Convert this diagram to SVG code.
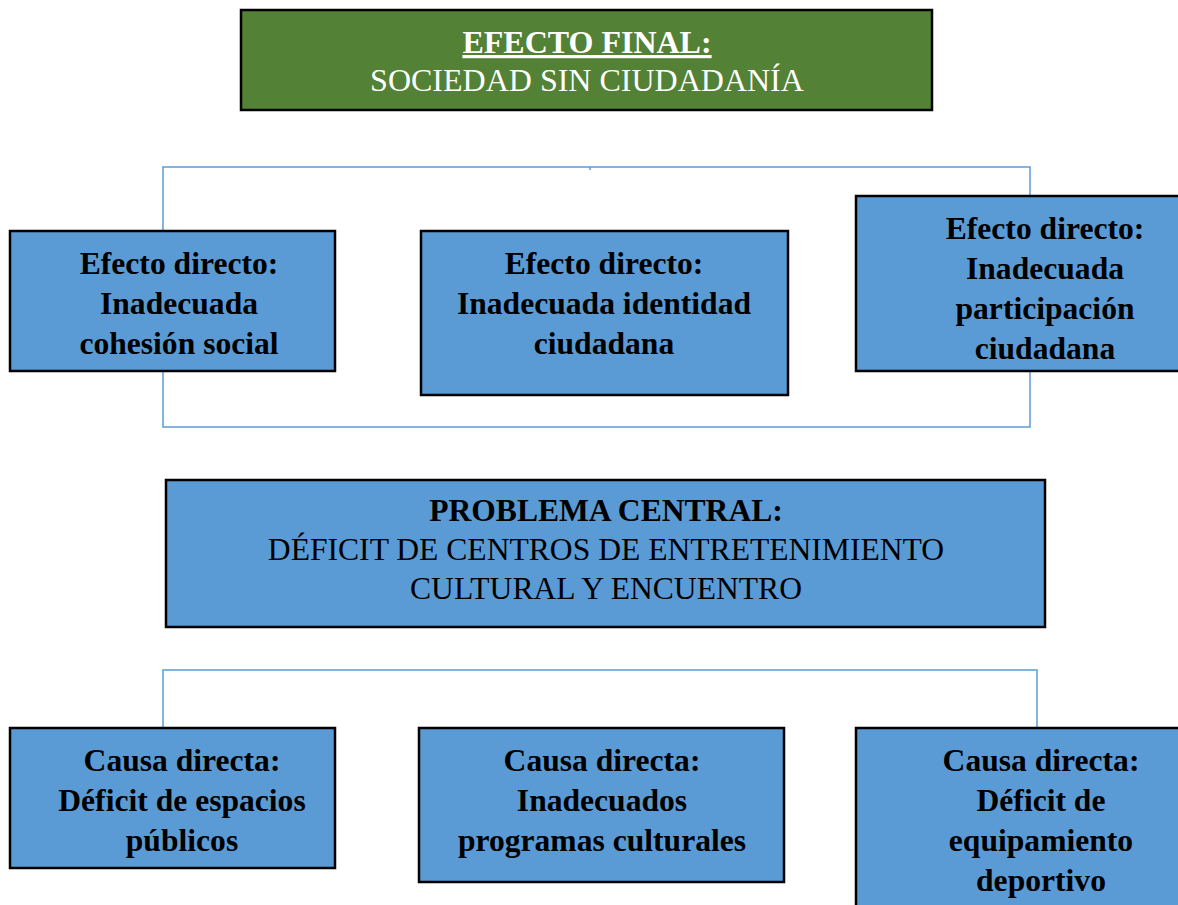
<svg xmlns="http://www.w3.org/2000/svg" width="1178" height="905" viewBox="0 0 1178 905">
<style>
.box{fill:#5B9BD5;stroke:#000;stroke-width:2.5}
.green{fill:#538135;stroke:#000;stroke-width:2.5}
.t{font-family:"Liberation Serif","Times New Roman",serif;font-size:31.6px;text-anchor:middle;fill:#000}
.b{font-weight:bold}
.w{fill:#fff}
.conn{fill:none;stroke:#5B9BD5;stroke-width:1.5}
</style>
<rect width="1178" height="905" fill="#fff"/>
<g id="connectors">
<polyline class="conn" points="163,231 163,167 1030,167 1030,196"/>
<line class="conn" x1="590" y1="167" x2="590" y2="170"/>
<polyline class="conn" points="163,371 163,427 1030,427 1030,371"/>
<polyline class="conn" points="163,728 163,670 1037,670 1037,728"/>
</g>
<g id="efecto-final">
<rect class="green" x="241" y="10" width="691" height="100"/>
<text class="t b w" x="587" y="53" style="font-size:32px" text-decoration="underline">EFECTO FINAL:</text>
<text class="t w" x="587" y="91" style="font-size:32px">SOCIEDAD SIN CIUDADANÍA</text>
</g>
<g id="efecto1">
<rect class="box" x="10" y="231" width="325" height="140"/>
<text class="t b" x="179" y="274">Efecto directo:</text>
<text class="t b" x="179" y="314">Inadecuada</text>
<text class="t b" x="179" y="354">cohesión social</text>
</g>
<g id="efecto2">
<rect class="box" x="421" y="231" width="367" height="164"/>
<text class="t b" x="604" y="274">Efecto directo:</text>
<text class="t b" x="604" y="314">Inadecuada identidad</text>
<text class="t b" x="604" y="354">ciudadana</text>
</g>
<g id="efecto3">
<rect class="box" x="856" y="196" width="330" height="175"/>
<text class="t b" x="1045" y="239">Efecto directo:</text>
<text class="t b" x="1045" y="279">Inadecuada</text>
<text class="t b" x="1045" y="319">participación</text>
<text class="t b" x="1045" y="359">ciudadana</text>
</g>
<g id="problema-central">
<rect class="box" x="166" y="480" width="879" height="147"/>
<text class="t b" x="606" y="521">PROBLEMA CENTRAL:</text>
<text class="t" x="606" y="560">DÉFICIT DE CENTROS DE ENTRETENIMIENTO</text>
<text class="t" x="606" y="599">CULTURAL Y ENCUENTRO</text>
</g>
<g id="causa1">
<rect class="box" x="10" y="728" width="325" height="140"/>
<text class="t b" x="182" y="771">Causa directa:</text>
<text class="t b" x="182" y="811">Déficit de espacios</text>
<text class="t b" x="182" y="851">públicos</text>
</g>
<g id="causa2">
<rect class="box" x="419" y="728" width="365" height="154"/>
<text class="t b" x="602" y="771">Causa directa:</text>
<text class="t b" x="602" y="811">Inadecuados</text>
<text class="t b" x="602" y="851">programas culturales</text>
</g>
<g id="causa3">
<rect class="box" x="856" y="728" width="330" height="190"/>
<text class="t b" x="1041" y="771">Causa directa:</text>
<text class="t b" x="1041" y="811">Déficit de</text>
<text class="t b" x="1041" y="851">equipamiento</text>
<text class="t b" x="1041" y="891">deportivo</text>
</g>
</svg>
